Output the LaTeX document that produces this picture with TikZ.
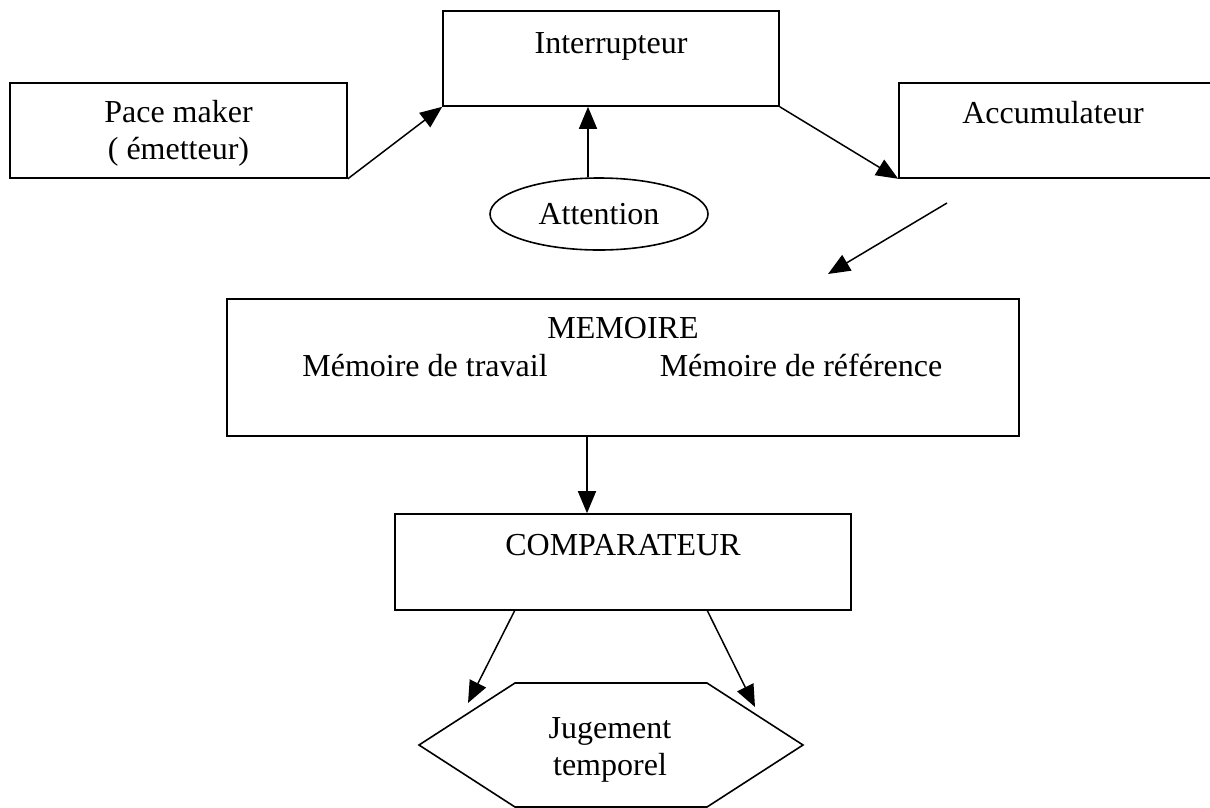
\documentclass[tikz,border=0pt]{standalone}
\usepackage{fontspec}
\setmainfont{Liberation Serif}
\usetikzlibrary{arrows.meta,shapes.geometric}
\begin{document}
\begin{tikzpicture}[x=1pt,y=-1pt,
  boxstyle/.style={draw,line width=1.6pt,inner sep=0pt,minimum width=#1},
  lbl/.style={inner sep=0pt,font=\fontsize{32}{37}\selectfont,align=center},
  one/.style={lbl,text height=22pt,text depth=7pt},
  arr/.style={line width=1.5pt,-{Triangle[length=22pt,width=18pt]}}]
\useasboundingbox (0,0) rectangle (1210,807);
\fill[white] (0,0) rectangle (1210,807);
% boxes
\node[boxstyle=337pt,minimum height=95pt] (pace) at (178.5,130.5) {};
\node[boxstyle=336pt,minimum height=95pt] (int) at (611,58.5) {};
\node[boxstyle=318pt,minimum height=95pt] (acc) at (1058,130.5) {};
\node[draw,line width=1.6pt,ellipse,inner sep=0pt,minimum width=218pt,minimum height=72pt] (att) at (599,214) {};
\node[boxstyle=792pt,minimum height=137pt] (mem) at (623,367.5) {};
\node[boxstyle=456pt,minimum height=96pt] (comp) at (623,562) {};
\coordinate (h1) at (419,745);
\coordinate (h2) at (515,683);
\coordinate (h3) at (707,683);
\coordinate (h4) at (803,745);
\coordinate (h5) at (707,807);
\coordinate (h6) at (515,807);
\draw[line width=1.6pt,line join=miter] (h1) -- (h2) -- (h3) -- (h4) -- (h5) -- (h6) -- cycle;
% texts
\node[lbl] (paceT) at (178.5,133) {Pace maker\\( émetteur)};
\node[one] (intT) at (611,46) {Interrupteur};
\node[one] (accT) at (1053,116) {Accumulateur};
\node[one] (attT) at (599,217) {Attention};
\node[one] (memT) at (623,331) {MEMOIRE};
\node[one] (memA) at (425,369) {Mémoire de travail};
\node[one] (memB) at (801,369) {Mémoire de référence};
\node[one] (compT) at (623,548) {COMPARATEUR};
\node[lbl] (jugT) at (610,750) {Jugement\\temporel};
% connectors
\draw[arr] (pace.south east) -- (int.south west);
\draw[arr] (int.south east) -- (acc.south west);
\draw[arr] ([xshift=-11pt]att.north) -- ([xshift=-23pt]int.south);
\coordinate (fa) at (947,203);
\coordinate (fb) at (828,274);
\draw[arr] (fa) -- (fb);
\draw[arr] ([xshift=-36pt]mem.south) -- ([xshift=-36pt]comp.north);
\coordinate (cl) at (515,610);
\coordinate (cr) at (707,610);
\coordinate (tl) at (468,703);
\coordinate (tr) at (755,707);
\draw[arr] (cl) -- (tl);
\draw[arr] (cr) -- (tr);
\end{tikzpicture}
\end{document}
